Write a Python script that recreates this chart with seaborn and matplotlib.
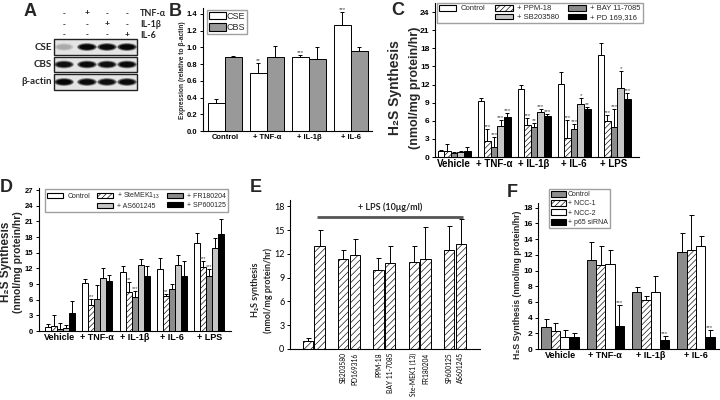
import numpy as np
import pandas as pd
import matplotlib
matplotlib.use("Agg")
import matplotlib.pyplot as plt
import seaborn as sns
from matplotlib.patches import Patch, Ellipse, Rectangle
from matplotlib.container import BarContainer

# ---------------- data ----------------
# Panel A (western blot)
a_treatments = ['TNF-α', 'IL-1β', 'IL-6']
a_signs = [['-', '+', '-', '-'],
           ['-', '-', '+', '-'],
           ['-', '-', '-', '+']]
a_rows = ['CSE', 'CBS', 'β-actin']
a_cse_band = [0.15, 1.0, 0.95, 1.0]
a_cbs_band = [0.9, 0.95, 0.9, 0.95]
a_actin_band = [1.0, 0.95, 0.9, 0.95]

# Panel B
b_groups = ['Control', '+ TNF-α', '+ IL-1β', '+ IL-6']
b_series = ['CSE', 'CBS']
b_cse = [0.34, 0.69, 0.88, 1.27]
b_cse_err = [0.04, 0.12, 0.03, 0.15]
b_cbs = [0.88, 0.89, 0.86, 0.96]
b_cbs_err = [0.02, 0.12, 0.14, 0.04]
b_cse_stars = ['', '**', '***', '***']

# Panel C
c_groups = ['Vehicle', '+ TNF-α', '+ IL-1β', '+ IL-6', '+ LPS']
c_series = ['Control', '+ PPM-18', '+ BAY 11-7085', '+ SB203580', '+ PD 169,316']
c_control = [1.0, 9.3, 11.3, 12.1, 16.9]
c_control_err = [0.2, 0.4, 0.7, 1.9, 2.0]
c_ppm = [1.0, 2.7, 5.35, 3.1, 5.95]
c_ppm_err = [1.1, 2.0, 1.05, 3.1, 1.0]
c_bay = [0.7, 1.7, 4.9, 4.6, 4.9]
c_bay_err = [0.2, 1.6, 0.7, 0.9, 3.0]
c_sb = [0.8, 5.1, 7.45, 8.8, 11.4]
c_sb_err = [0.2, 1.0, 0.5, 0.9, 2.9]
c_pd = [1.0, 6.7, 6.8, 7.9, 9.65]
c_pd_err = [0.6, 0.6, 0.3, 0.3, 0.9]
c_ppm_stars = ['', '***', '***', '***', '***']
c_bay_stars = ['', '***', '**', '***', '***']
c_sb_stars = ['', '***', '***', '*', '*']
c_pd_stars = ['', '***', '***', '**', '***']

# Panel D
d_groups = ['Vehicle', '+ TNF-α', '+ IL-1β', '+ IL-6', '+ LPS']
d_series = ['Control', '+ SteMEK1$_{13}$', '+ FR180204', '+ AS601245', '+ SP600125']
d_control = [0.83, 9.2, 11.3, 11.9, 16.8]
d_control_err = [0.6, 0.8, 1.2, 2.0, 2.0]
d_mek = [1.0, 4.9, 7.5, 6.8, 12.3]
d_mek_err = [2.1, 1.3, 1.9, 0.3, 1.1]
d_fr = [0.4, 6.2, 6.5, 8.1, 10.6]
d_fr_err = [1.1, 2.6, 1.2, 0.9, 1.3]
d_as = [0.6, 10.1, 12.6, 12.7, 15.9]
d_as_err = [0.6, 1.9, 1.2, 1.9, 2.0]
d_sp = [3.4, 9.6, 10.5, 10.5, 18.5]
d_sp_err = [2.4, 1.2, 2.0, 3.0, 3.0]
d_mek_stars = ['', '***', '**', '**', '***']
d_fr_stars = ['', '', '***', '', '***']

# Panel E
e_names = ['Vehicle', 'LPS', 'SB203580', 'PD169316', 'PPM-18', 'BAY 11-7085',
           'Ste-MEK1 (13)', 'FR180204', 'SP600125', 'AS601245']
e_values = [1.0, 12.95, 11.3, 11.9, 10.0, 10.85, 11.0, 11.4, 12.45, 13.2]
e_err = [0.45, 2.05, 1.2, 2.0, 1.5, 2.1, 2.0, 3.95, 3.05, 3.2]
e_bracket_text = '+ LPS (10μg/ml)'

# Panel F
f_groups = ['Vehicle', '+ TNF-α', '+ IL-1β', '+ IL-6']
f_series = ['Control', '+ NCC-1', '+ NCC-2', '+ p65 siRNA']
f_control = [2.8, 11.4, 7.2, 12.3]
f_control_err = [1.05, 2.2, 0.75, 2.45]
f_ncc1 = [2.3, 10.75, 6.25, 12.65]
f_ncc1_err = [1.0, 2.4, 0.55, 4.4]
f_ncc2 = [1.5, 10.85, 7.25, 13.15]
f_ncc2_err = [0.9, 1.8, 2.1, 1.2]
f_p65 = [1.55, 2.95, 1.2, 1.5]
f_p65_err = [0.5, 2.7, 0.5, 0.9]
f_p65_stars = ['', '***', '***', '***']

# ---------------- style ----------------
sns.set_theme(style='ticks')
plt.rcParams['font.family'] = ['Liberation Sans', 'DejaVu Sans']
plt.rcParams['hatch.linewidth'] = 0.45
plt.rcParams['axes.linewidth'] = 0.8
plt.rcParams['axes.edgecolor'] = 'black'
plt.rcParams['xtick.color'] = 'black'
plt.rcParams['ytick.color'] = 'black'
plt.rcParams['mathtext.default'] = 'regular'

W, H = 720, 400
fig = plt.figure(figsize=(7.2, 4.0), dpi=100)
fig.patch.set_facecolor('white')


def add_ax(x0, y0, x1, y1):
    return fig.add_axes([x0 / W, 1 - y1 / H, (x1 - x0) / W, (y1 - y0) / H])


def ftext(x, y, s, **kw):
    fig.text(x / W, 1 - y / H, s, **kw)


WHITE = '#ffffff'
MID = '#8c8c8c'
LIGHT = '#c6c6c6'
BLACK = '#000000'


def grouped_bars(ax, groups, series, vals, errs, colors, hatches, width,
                 stars=None, star_size=4.5, cap=1.5, lw=0.7):
    rows = []
    for s, v in zip(series, vals):
        for g, y in zip(groups, v):
            rows.append({'group': g, 'series': s, 'value': y})
    df = pd.DataFrame(rows)
    sns.barplot(data=df, x='group', y='value', hue='series', order=groups,
                hue_order=series, palette=dict(zip(series, colors)),
                width=width, errorbar=None, saturation=1, edgecolor='black',
                linewidth=lw, legend=False, ax=ax)
    conts = [c for c in ax.containers if isinstance(c, BarContainer)]
    for i, cont in enumerate(conts):
        for j, bar in enumerate(cont.patches):
            if hatches[i]:
                bar.set_hatch(hatches[i])
            xc = bar.get_x() + bar.get_width() / 2
            h = bar.get_height()
            ax.errorbar([xc], [h], yerr=[[0], [errs[i][j]]], fmt='none',
                        ecolor='black', elinewidth=0.7, capsize=cap,
                        capthick=0.7, zorder=1)
            if stars is not None and stars[i] is not None and stars[i][j]:
                ax.text(xc, h + errs[i][j], stars[i][j], ha='center',
                        va='bottom', fontsize=star_size, color='#444444')
    ax.set_xlabel('')
    ax.set_ylabel('')
    sns.despine(ax=ax)


def style_group_labels(ax, size=7, pad=1.5):
    ax.tick_params(axis='x', length=0, pad=pad, labelsize=size)
    for lbl in ax.get_xticklabels():
        lbl.set_fontweight('bold')


def style_y(ax, size=6, bold=True, length=2.5):
    ax.tick_params(axis='y', length=length, width=0.7, pad=1.5, labelsize=size)
    if bold:
        for lbl in ax.get_yticklabels():
            lbl.set_fontweight('bold')


# ---------------- panel letters ----------------
for letter, (x, y) in zip('ABCDEF', [(24, 3), (169, 3), (391, 2), (0, 179), (250, 179), (507, 184)]):
    ftext(x, y, letter, fontsize=13, fontweight='bold', va='top', ha='left')

# ---------------- Panel A ----------------
axA = add_ax(0, 0, 170, 100)
axA.set_xlim(0, 170)
axA.set_ylim(100, 0)
axA.axis('off')
lane_x = [64, 87, 107, 127]
sign_y = [14, 24.5, 35]
for r, (lab, signs) in enumerate(zip(a_treatments, a_signs)):
    for lx, s in zip(lane_x, signs):
        axA.text(lx, sign_y[r], s, ha='center', va='center', fontsize=6,
                 fontweight='bold', color='#222222')
    axA.text(140, sign_y[r], lab, ha='left', va='center', fontsize=6.5,
             fontweight='bold', family=['Lato', 'DejaVu Sans'])
blot_rows = [(39, 55), (57, 72), (74, 90)]
bands = [a_cse_band, a_cbs_band, a_actin_band]
for (y0, y1), lab, band in zip(blot_rows, a_rows, bands):
    axA.add_patch(Rectangle((54, y0), 83, y1 - y0, facecolor='#e4e4e4',
                            edgecolor='#222222', lw=1.0))
    yc = (y0 + y1) / 2
    for lx, inten in zip(lane_x, band):
        for k, (w, h, a) in enumerate([(20, 8, 0.35), (18, 6.5, 0.55), (15, 5, 0.9)]):
            axA.add_patch(Ellipse((lx, yc), w, h, facecolor='black',
                                  edgecolor='none', alpha=a * inten))
    axA.text(52, yc, lab, ha='right', va='center', fontsize=7,
             fontweight='bold', family=['Lato', 'DejaVu Sans'])

# ---------------- Panel B ----------------
axB = add_ax(203, 8, 372, 131)
grouped_bars(axB, b_groups, b_series, [b_cse, b_cbs], [b_cse_err, b_cbs_err],
             [WHITE, '#999999'], [None, None], 0.81,
             stars=[b_cse_stars, None], star_size=4.5, cap=1.5)
axB.set_ylim(0, 1.47)
axB.set_xlim(-0.52, 3.5)
axB.set_yticks(np.arange(0, 1.41, 0.2))
axB.set_yticklabels([f'{v:.1f}' for v in np.arange(0, 1.41, 0.2)])
style_y(axB, size=5.5)
style_group_labels(axB, size=5.5, pad=2)
ftext(183, 70, 'Expression (relative to β-actin)', rotation=90, fontsize=4.8,
      fontweight='bold', ha='center', va='center')
hB = [Patch(facecolor=c, edgecolor='black', lw=0.8, label=l)
      for c, l in zip([WHITE, '#999999'], b_series)]
fig.legend(handles=hB, loc='upper left', bbox_to_anchor=(207 / W, 1 - 10 / H),
           fontsize=6.5, frameon=True, fancybox=False, edgecolor='#888888',
           handlelength=1.9, handleheight=0.9, handletextpad=0.1,
           borderpad=0.2, labelspacing=0.25, borderaxespad=0)

# ---------------- Panel C ----------------
axC = add_ax(435, 3, 639, 157)
c_colors = [WHITE, WHITE, MID, LIGHT, BLACK]
c_hatches = [None, '//////', None, None, None]
grouped_bars(axC, c_groups, c_series, [c_control, c_ppm, c_bay, c_sb, c_pd],
             [c_control_err, c_ppm_err, c_bay_err, c_sb_err, c_pd_err],
             c_colors, c_hatches, 0.825,
             stars=[None, c_ppm_stars, c_bay_stars, c_sb_stars, c_pd_stars],
             star_size=4.5, cap=1.3)
axC.set_ylim(0, 25.5)
axC.set_xlim(-0.475, 4.625)
axC.set_yticks(np.arange(0, 25, 3))
style_y(axC, size=6)
style_group_labels(axC, size=7, pad=1.5)
ftext(395, 88, 'H₂S Synthesis', rotation=90, fontsize=10, fontweight='bold',
      ha='center', va='center')
ftext(415, 88, '(nmol/mg protein/hr)', rotation=90, fontsize=9,
      fontweight='bold', ha='center', va='center')
blank = Patch(facecolor='none', edgecolor='none', label=' ')
hC = [Patch(facecolor=c, edgecolor='black', hatch=h, lw=0.8, label=l)
      for c, h, l in zip(c_colors, c_hatches, c_series)]
fig.legend(handles=[hC[0], blank, hC[1], hC[3], hC[2], hC[4]], ncol=3,
           loc='upper left', bbox_to_anchor=(437 / W, 1 - 3 / H), fontsize=5.5,
           frameon=True, fancybox=False, edgecolor='#888888',
           handlelength=2.3, handleheight=0.8, handletextpad=0.6,
           columnspacing=1.2, borderpad=0.25, labelspacing=0.15,
           borderaxespad=0)

# ---------------- Panel D ----------------
axD = add_ax(39, 188, 231, 331)
d_colors = [WHITE, WHITE, MID, LIGHT, BLACK]
d_hatches = [None, '//////', None, None, None]
grouped_bars(axD, d_groups, d_series, [d_control, d_mek, d_fr, d_as, d_sp],
             [d_control_err, d_mek_err, d_fr_err, d_as_err, d_sp_err],
             d_colors, d_hatches, 0.8,
             stars=[None, d_mek_stars, d_fr_stars, None, None],
             star_size=4, cap=1.2)
axD.set_ylim(0, 27.4)
axD.set_xlim(-0.56, 4.58)
axD.set_yticks(np.arange(0, 28, 3))
style_y(axD, size=5.5)
style_group_labels(axD, size=6.5, pad=1.5)
ftext(6, 262, 'H₂S Synthesis', rotation=90, fontsize=8.5, fontweight='bold',
      ha='center', va='center')
ftext(18, 262, '(nmol/mg protein/hr)', rotation=90, fontsize=7.5,
      fontweight='bold', ha='center', va='center')
hD = [Patch(facecolor=c, edgecolor='black', hatch=h, lw=0.8, label=l)
      for c, h, l in zip(d_colors, d_hatches, d_series)]
fig.legend(handles=[hD[0], blank, hD[1], hD[3], hD[2], hD[4]], ncol=3,
           loc='upper left', bbox_to_anchor=(45 / W, 1 - 189 / H), fontsize=5,
           frameon=True, fancybox=False, edgecolor='#888888',
           handlelength=2.3, handleheight=0.8, handletextpad=0.6,
           columnspacing=1.0, borderpad=0.3, labelspacing=0.25,
           borderaxespad=0)

# ---------------- Panel E ----------------
axE = add_ax(290, 200, 480, 349)
order_E = []
for i, n in enumerate(e_names):
    order_E.append(n)
    if i in (1, 3, 5, 7):
        order_E.append(f'gap{i}')
dfE = pd.DataFrame({'name': e_names, 'value': e_values})
sns.barplot(data=dfE, x='name', y='value', order=order_E, color=WHITE,
            saturation=1, width=0.89, errorbar=None, edgecolor='black',
            linewidth=0.7, ax=axE)
barsE = [c for c in axE.containers if isinstance(c, BarContainer)][0]
pos_of = {}
for bar, n, err in zip(barsE.patches, e_names, e_err):
    bar.set_hatch('/////')
    xc = bar.get_x() + bar.get_width() / 2
    pos_of[n] = xc
    axE.errorbar([xc], [bar.get_height()], yerr=[[0], [err]], fmt='none',
                 ecolor='black', elinewidth=0.7, capsize=1.8, capthick=0.7,
                 zorder=1)
axE.set_ylim(0, 18.8)
axE.set_xlim(-1.53, 14.64)
axE.set_yticks(np.arange(0, 19, 3))
axE.set_xticks(range(len(order_E)))
axE.set_xticklabels([n if (n in e_names[2:]) else '' for n in order_E],
                    rotation=90, fontsize=4.8, family=['Lato', 'DejaVu Sans'])
axE.tick_params(axis='x', length=0, pad=2.5)
style_y(axE, size=6.5, bold=False)
for lbl in axE.get_yticklabels():
    lbl.set_family(['Lato', 'DejaVu Sans'])
axE.set_xlabel('')
axE.set_ylabel('')
sns.despine(ax=axE)
x0b = pos_of['LPS'] - 0.25
x1b = pos_of[e_names[-1]] + 0.2
axE.plot([x0b, x1b], [16.7, 16.7], color='#555555', lw=2, solid_capstyle='butt')
axE.text((x0b + x1b) / 2, 17.95, e_bracket_text, ha='center', va='center',
         fontsize=6.5, fontweight='bold', family=['Lato', 'DejaVu Sans'])
ftext(255, 290, 'H₂S synthesis', rotation=90, fontsize=6.5, fontweight='bold',
      ha='center', va='center', family=['Lato', 'DejaVu Sans'])
ftext(268, 290, '(nmol/mg protein/hr)', rotation=90, fontsize=6.5,
      fontweight='bold', ha='center', va='center', family=['Lato', 'DejaVu Sans'])

# ---------------- Panel F ----------------
axF = add_ax(538, 203, 720, 349)
f_colors = [MID, WHITE, WHITE, BLACK]
f_hatches = [None, '//////', None, None]
grouped_bars(axF, f_groups, f_series, [f_control, f_ncc1, f_ncc2, f_p65],
             [f_control_err, f_ncc1_err, f_ncc2_err, f_p65_err],
             f_colors, f_hatches, 0.82,
             stars=[None, None, None, f_p65_stars], star_size=4.5, cap=1.8)
axF.set_ylim(0, 18.6)
axF.set_xlim(-0.486, 3.53)
axF.set_yticks(np.arange(0, 19, 2))
style_y(axF, size=6)
style_group_labels(axF, size=6.5, pad=1.5)
ftext(517, 285, 'H₂S Synthesis (nmol/mg protein/hr)', rotation=90, fontsize=6.3,
      fontweight='bold', ha='center', va='center')
hF = [Patch(facecolor=c, edgecolor='black', hatch=h, lw=0.8, label=l)
      for c, h, l in zip(f_colors, f_hatches, f_series)]
fig.legend(handles=hF, loc='upper left', bbox_to_anchor=(549 / W, 1 - 189 / H),
           fontsize=5, frameon=True, fancybox=False, edgecolor='#888888',
           handlelength=2.2, handleheight=0.9, handletextpad=0.3,
           borderpad=0.25, labelspacing=0.3, borderaxespad=0)

fig.savefig('out.png', dpi=100, facecolor='white')
